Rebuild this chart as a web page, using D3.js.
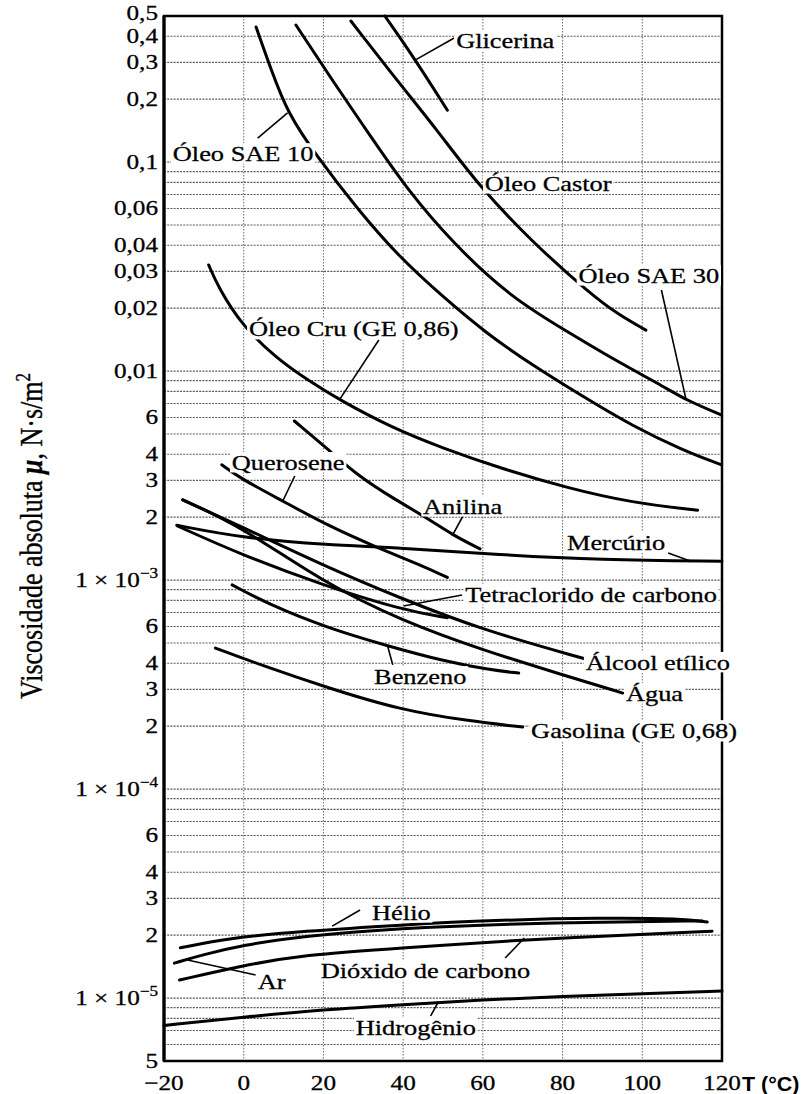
<!DOCTYPE html>
<html>
<head>
<meta charset="utf-8">
<script src="https://cdn.jsdelivr.net/npm/d3@7"></script>
<style>
  body { margin: 0; background: #fff; }
  svg { display: block; }
  text { font-family: "Liberation Serif", "Times New Roman", serif; fill: #000; }
</style>
</head>
<body>
<svg id="chart" width="807" height="1094"></svg>
<script>
// values: T in degC, mu in N.s/m2

const glicerinaT  = [35.4, 43.0, 51.1];
const glicerinaMu = [0.5, 0.31, 0.177];

const castorT  = [26.9, 38.6, 48.7, 58.8, 72.1, 87.3, 94.1, 100.9];
const castorMu = [0.473, 0.244, 0.141, 0.0777, 0.0419, 0.0231, 0.0186, 0.0157];

const sae30T  = [13.1, 23.0, 31.6, 40.7, 52.6, 67.2, 80.8, 93.4, 106.0, 111.0, 119.8];
const sae30Mu = [0.453, 0.234, 0.135, 0.0752, 0.0406, 0.0224, 0.0156, 0.0112, 0.0083, 0.00727, 0.00617];

const sae10T  = [3.1, 6.9, 11.0, 18.1, 28.7, 38.8, 49.7, 60.8, 72.3, 84.9, 97.5, 110.1, 119.9];
const sae10Mu = [0.443, 0.276, 0.172, 0.108, 0.059, 0.0355, 0.0229, 0.0152, 0.0107, 0.0076, 0.00546, 0.00419, 0.00356];

const cruT  = [-8.8, -6.3, -0.5, 8.1, 16.4, 24.0, 37.3, 49.9, 64.2, 81.1, 97.6, 113.9];
const cruMu = [0.0322, 0.0250, 0.0166, 0.01155, 0.00897, 0.00728, 0.00534, 0.00428, 0.00344, 0.00276, 0.00234, 0.00216];

const anilinaT  = [12.7, 20.8, 29.1, 37.4, 46.0, 52.5, 59.3];
const anilinaMu = [0.00577, 0.00428, 0.00311, 0.00247, 0.00198, 0.00164, 0.00141];

const queroseneT  = [-5.5, -1.0, 9.8, 20.9, 33.5, 44.3, 51.1];
const queroseneMu = [0.00356, 0.00308, 0.00239, 0.00183, 0.00143, 0.00118, 0.00103];

const mercurioT  = [-16.8, -0.2, 20.9, 39.2, 64.3, 89.4, 120];
const mercurioMu = [0.00183, 0.00159, 0.00147, 0.00143, 0.00132, 0.00125, 0.00123];

const aguaT  = [-15.3, -0.5, 19.7, 39.8, 59.9, 80.0, 95.1];
const aguaMu = [0.00242, 0.0018, 0.00098, 0.000637, 0.000463, 0.000352, 0.000288];

const alcoolT  = [-15.3, -0.5, 19.7, 39.8, 59.9, 85.8];
const alcoolMu = [0.00242, 0.0018, 0.00118, 0.000812, 0.000577, 0.000419];

const tetraT  = [-16.5, -0.5, 19.7, 39.8, 51.1];
const tetraMu = [0.00181, 0.00132, 0.000948, 0.000719, 0.00066];

const benzenoT  = [-2.9, 6.6, 21.0, 36.1, 50.1, 62.0, 69.0];
const benzenoMu = [0.000948, 0.00076, 0.00059, 0.000484, 0.00041, 0.000371, 0.000359];

const gasolinaT  = [-7.1, 4.2, 21.1, 39.4, 56.2, 70.0];
const gasolinaMu = [0.000473, 0.000393, 0.000305, 0.000239, 0.000212, 0.000198];

const helioT  = [-15.9, -3.6, 14.7, 39.8, 62.4, 89.9, 110.0, 116.3];
const helioMu = [1.74e-5, 1.94e-5, 2.09e-5, 2.24e-5, 2.36e-5, 2.42e-5, 2.40e-5, 2.31e-5];

const arT  = [-17.4, -10.4, -0.3, 14.7, 39.8, 64.9, 89.9, 115.0];
const arMu = [1.47e-5, 1.61e-5, 1.79e-5, 1.98e-5, 2.16e-5, 2.26e-5, 2.31e-5, 2.34e-5];

const co2T  = [-16.1, -0.3, 14.7, 39.8, 70.4, 89.9, 117.5];
const co2Mu = [1.22e-5, 1.43e-5, 1.61e-5, 1.74e-5, 1.90e-5, 1.98e-5, 2.09e-5];

const hidrogenioT  = [-20, 0, 20, 40, 60, 80, 100, 120];
const hidrogenioMu = [7.4e-6, 8.1e-6, 8.8e-6, 9.3e-6, 9.8e-6, 1.02e-5, 1.05e-5, 1.08e-5];

// tick labels of the log axis
const yTickValues = [0.5, 0.4, 0.3, 0.2, 0.1, 0.06, 0.04, 0.03, 0.02, 0.01,
                     6e-3, 4e-3, 3e-3, 2e-3, 1e-3, 6e-4, 4e-4, 3e-4, 2e-4, 1e-4,
                     6e-5, 4e-5, 3e-5, 2e-5, 1e-5, 5e-6];
const yTickLabels = ["0,5", "0,4", "0,3", "0,2", "0,1", "0,06", "0,04", "0,03", "0,02", "0,01",
                     "6", "4", "3", "2", "1 × 10|−3", "6", "4", "3", "2", "1 × 10|−4",
                     "6", "4", "3", "2", "1 × 10|−5", "5"];
const xTickValues = [-20, 0, 20, 40, 60, 80, 100, 120];
const xTickLabels = ["−20", "0", "20", "40", "60", "80", "100", "120"];

// curve names, [T, mu] of the text (left, baseline)
const labelNames = ["Glicerina", "Óleo SAE 10", "Óleo Castor", "Óleo SAE 30", "Óleo Cru (GE 0,86)",
                    "Querosene", "Anilina", "Mercúrio", "Tetraclorido de carbono", "Álcool etílico",
                    "Água", "Benzeno", "Gasolina (GE 0,68)", "Hélio", "Ar", "Dióxido de carbono", "Hidrogênio"];
const labelT  = [53.3, -17.8, 60.5, 84.0, 1.3, -3.0, 45.0, 81.1, 55.6, 85.8, 95.9, 32.7, 72.1, 32.2, 3.5, 19.3, 28.1];
const labelMu = [0.3515, 0.1011, 0.0727, 0.02637, 0.01472, 0.003365, 0.002071, 0.001393, 0.000785, 0.000372,
                 0.000264, 0.000318, 0.0001754, 2.36e-5, 1.105e-5, 1.25e-5, 6.65e-6];

// leader lines: T1, mu1, T2, mu2
const leaders = [
  [43.0, 0.3076, 52.8, 0.3925],
  [3.5, 0.1303, 11.0, 0.1718],
  [104.8, 0.02442, 111.0, 0.00728],
  [33.9, 0.01408, 24.0, 0.00728],
  [12.8, 0.003148, 9.8, 0.00239],
  [55.0, 0.002026, 52.3, 0.001626],
  [106.5, 0.001348, 112.0, 0.001233],
  [40.1, 0.000751, 54.8, 0.000848],
  [36.1, 0.000484, 37.4, 0.000393],
  [22.2, 2.21e-5, 29.2, 2.64e-5],
  [-14.1, 1.52e-5, 3.0, 1.29e-5],
  [65.6, 1.555e-5, 70.4, 1.94e-5],
  [46.9, 8.21e-6, 48.7, 9.48e-6]
];

const series = [
  [glicerinaT, glicerinaMu], [castorT, castorMu], [sae30T, sae30Mu], [sae10T, sae10Mu],
  [cruT, cruMu], [anilinaT, anilinaMu], [queroseneT, queroseneMu], [mercurioT, mercurioMu],
  [aguaT, aguaMu], [alcoolT, alcoolMu], [tetraT, tetraMu], [benzenoT, benzenoMu],
  [gasolinaT, gasolinaMu], [helioT, helioMu], [arT, arMu], [co2T, co2Mu],
  [hidrogenioT, hidrogenioMu]
].map(s => s[0].map((t, i) => [t, s[1][i]]));

// the scan is stretched sideways, so text is widened the same way
const SX = 1.2;

const svg = d3.select("#chart");
const plotL = 164, plotR = 722, plotT = 16, plotB = 1061;

const x = d3.scaleLinear().domain([-20, 120]).range([plotL, plotR]);
const y = d3.scaleLog().domain([5e-6, 0.5]).range([plotB, plotT]);

function stretchText(parent, px, py, str, size, anchor, sx) {
    const g = parent.append("g")
        .attr("transform", "translate(" + px + "," + py + ") scale(" + (sx || SX) + ",1)");
    const t = g.append("text")
        .attr("font-size", size)
        .attr("text-anchor", anchor || "start")
        .attr("stroke", "#000")
        .attr("stroke-width", 0.3);
    const parts = str.split("|");
    t.append("tspan").text(parts[0]);
    if (parts.length > 1) {
        t.append("tspan").attr("font-size", size * 0.68).attr("dy", -size * 0.42).text(parts[1]);
    }
    return { g: g, t: t };
}

// grid
const grid = svg.append("g");
grid.selectAll("line.h")
    .data(y.ticks())
    .join("line")
    .attr("x1", plotL).attr("x2", plotR)
    .attr("y1", d => y(d)).attr("y2", d => y(d))
    .attr("stroke", "#5a5a5a")
    .attr("stroke-width", 1.1)
    .attr("stroke-dasharray", "2,1.2");

grid.selectAll("line.v")
    .data(x.ticks(7))
    .join("line")
    .attr("x1", d => x(d)).attr("x2", d => x(d))
    .attr("y1", plotT).attr("y2", plotB)
    .attr("stroke", "#6a6a6a")
    .attr("stroke-width", 1)
    .attr("stroke-dasharray", "1.5,1.5");

// frame
svg.append("rect")
    .attr("x", plotL).attr("y", plotT)
    .attr("width", plotR - plotL).attr("height", plotB - plotT)
    .attr("fill", "none").attr("stroke", "#000").attr("stroke-width", 2.5);
svg.append("line")
    .attr("x1", plotL).attr("x2", plotL).attr("y1", plotT).attr("y2", plotB)
    .attr("stroke", "#000").attr("stroke-width", 3.2);

// curves, smoothed through the read points
const line = d3.line()
    .x(d => x(d[0]))
    .y(d => y(d[1]))
    .curve(d3.curveBasis);

svg.append("g").selectAll("path")
    .data(series)
    .join("path")
    .attr("d", line)
    .attr("fill", "none")
    .attr("stroke", "#000")
    .attr("stroke-width", 3)
    .attr("stroke-linecap", "round");

// leader lines
svg.append("g").selectAll("line")
    .data(leaders)
    .join("line")
    .attr("x1", d => x(d[0])).attr("y1", d => y(d[1]))
    .attr("x2", d => x(d[2])).attr("y2", d => y(d[3]))
    .attr("stroke", "#000")
    .attr("stroke-width", 1.6);

// curve labels, on a white patch so the grid stops at the text
const lab = svg.append("g");
labelNames.forEach((name, i) => {
    const o = stretchText(lab, x(labelT[i]), y(labelMu[i]), name, 22, "start");
    const bb = o.t.node().getBBox();
    o.g.insert("rect", "text")
        .attr("x", bb.x - 1.5).attr("y", bb.y + 2)
        .attr("width", bb.width + 3).attr("height", bb.height - 4)
        .attr("fill", "#fff");
});

// y tick labels (the top one sits a little higher, as in the scan)
const yax = svg.append("g");
yTickValues.forEach((v, i) => {
    stretchText(yax, plotL - 6, y(v) + (i === 0 ? 4 : 7), yTickLabels[i], 21, "end");
});

// x tick labels
const xax = svg.append("g");
xTickValues.forEach((v, i) => {
    stretchText(xax, x(v), 1090, xTickLabels[i], 21, "middle");
});

// axis titles
const yt = svg.append("text")
    .attr("transform", "translate(42," + ((367 + 705) / 2) + ") rotate(-90) scale(1," + SX + ")")
    .attr("text-anchor", "middle")
    .attr("font-size", 26)
    .attr("stroke", "#000")
    .attr("stroke-width", 0.3);
yt.append("tspan").text("Viscosidade absoluta ");
yt.append("tspan").attr("font-style", "italic").attr("font-weight", "bold").text("μ");
yt.append("tspan").text(", N·s/m");
yt.append("tspan").attr("font-size", 17).attr("dy", -10).text("2");

const xt = stretchText(svg, 742, 1091, "T (°C)", 19.5, "start", 1.1);
xt.t.style("font-family", "'Liberation Sans', Arial, sans-serif")
    .attr("font-weight", "bold").attr("stroke-width", 0);
</script>
</body>
</html>
